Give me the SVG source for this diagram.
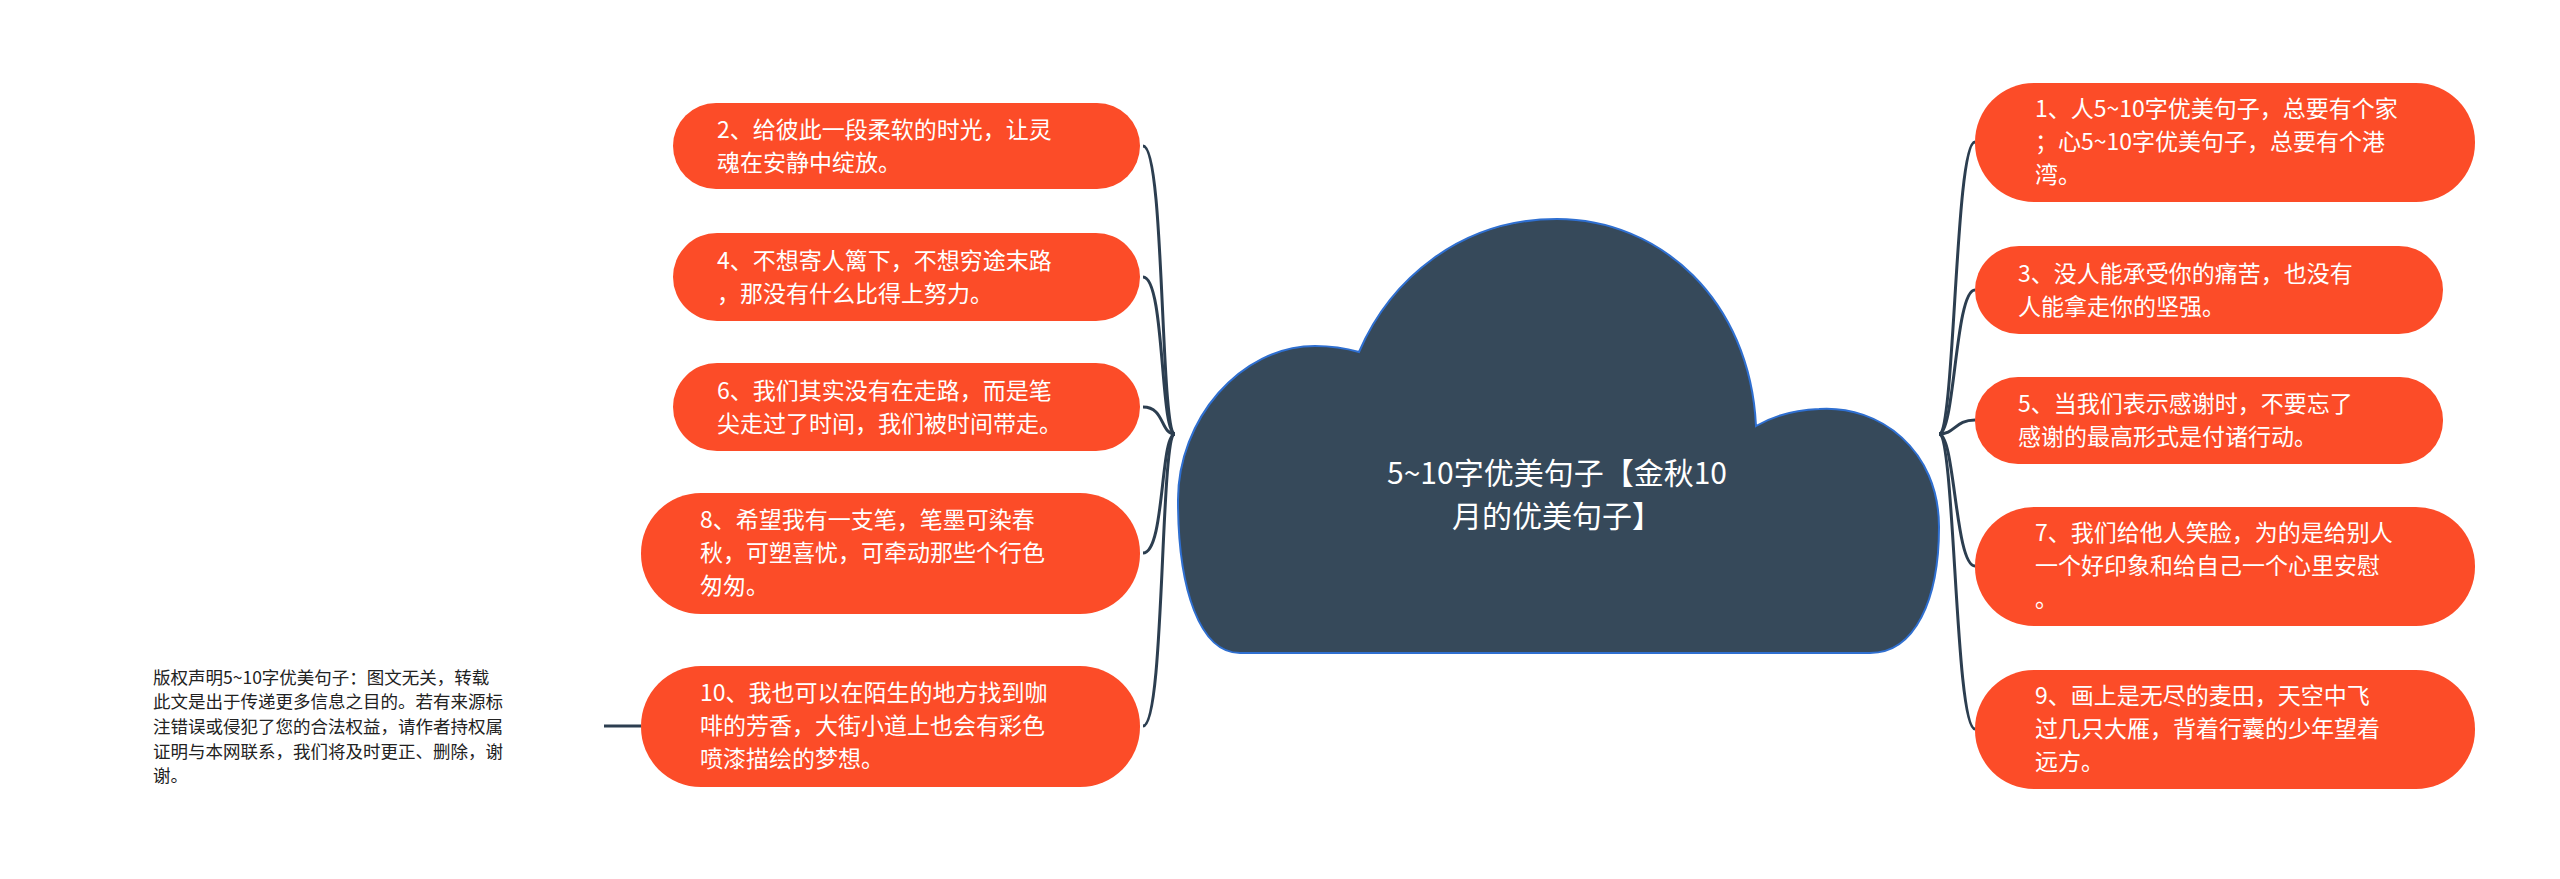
<svg xmlns="http://www.w3.org/2000/svg" width="2560" height="879" viewBox="0 0 2560 879">
<style>
.n{fill:#fc4c28;}
.t{font-family:"Noto Sans CJK SC","Noto Sans",sans-serif;font-size:23px;fill:#fff;}
.c{fill:none;stroke:#2c3e50;stroke-width:3;}
</style>
<rect width="2560" height="879" fill="#fff"/>
<g id="connectors">
<path class="c" d="M1175,434 C1160,434 1165,146 1143,146"/>
<path class="c" d="M1175,434 C1160,434 1165,277 1143,277"/>
<path class="c" d="M1175,434 C1160,434 1165,407 1143,407"/>
<path class="c" d="M1175,434 C1160,434 1165,553 1143,553"/>
<path class="c" d="M1175,434 C1160,434 1165,726 1143,726"/>
<path class="c" d="M1939,434 C1955,434 1955,142 1975,142"/>
<path class="c" d="M1939,434 C1955,434 1955,290 1975,290"/>
<path class="c" d="M1939,434 C1955,434 1955,420 1975,420"/>
<path class="c" d="M1939,434 C1955,434 1955,566 1975,566"/>
<path class="c" d="M1939,434 C1955,434 1955,729 1975,729"/>
<path class="c" d="M604,726 L641,726"/>
</g>
<g id="center">
<path d="M1240,653 L1870,653 C1915,653 1939,600 1939,527 C1939,450 1880,405 1819,409 C1790,410 1770,418 1756,426 C1750,300 1660,219 1557,219 C1460,219 1390,280 1359,352 C1345,348 1330,346 1315,346 C1240,346 1178,420 1178,500 C1178,590 1200,653 1240,653 Z" fill="#36495a" stroke="#2f6fd0" stroke-width="2"/>
<text class="t" style="font-size:30px" text-anchor="middle"><tspan x="1557" y="484">5~10字优美句子【金秋10</tspan><tspan x="1557" y="527">月的优美句子】</tspan></text>
</g>
<g id="n2"><rect class="n" x="673" y="103" width="467" height="86" rx="43"/><text class="t"><tspan x="717" y="138">2、给彼此一段柔软的时光，让灵</tspan><tspan x="717" y="171">魂在安静中绽放。</tspan></text></g>
<g id="n4"><rect class="n" x="673" y="233" width="467" height="88" rx="44"/><text class="t"><tspan x="717" y="269">4、不想寄人篱下，不想穷途末路</tspan><tspan x="717" y="302">，那没有什么比得上努力。</tspan></text></g>
<g id="n6"><rect class="n" x="673" y="363" width="467" height="88" rx="44"/><text class="t"><tspan x="717" y="399">6、我们其实没有在走路，而是笔</tspan><tspan x="717" y="432">尖走过了时间，我们被时间带走。</tspan></text></g>
<g id="n8"><rect class="n" x="641" y="493" width="499" height="121" rx="60"/><text class="t"><tspan x="700" y="528">8、希望我有一支笔，笔墨可染春</tspan><tspan x="700" y="561">秋，可塑喜忧，可牵动那些个行色</tspan><tspan x="700" y="594">匆匆。</tspan></text></g>
<g id="n10"><rect class="n" x="641" y="666" width="499" height="121" rx="60"/><text class="t"><tspan x="700" y="701">10、我也可以在陌生的地方找到咖</tspan><tspan x="700" y="734">啡的芳香，大街小道上也会有彩色</tspan><tspan x="700" y="767">喷漆描绘的梦想。</tspan></text></g>
<g id="copyright"><text style="font-family:'Noto Sans CJK SC','Noto Sans',sans-serif;font-size:17.5px;fill:#222"><tspan x="153" y="684">版权声明5~10字优美句子：图文无关，转载</tspan><tspan x="153" y="708">此文是出于传递更多信息之目的。若有来源标</tspan><tspan x="153" y="733">注错误或侵犯了您的合法权益，请作者持权属</tspan><tspan x="153" y="758">证明与本网联系，我们将及时更正、删除，谢</tspan><tspan x="153" y="782">谢。</tspan></text></g>
<g id="n1"><rect class="n" x="1975" y="83" width="500" height="119" rx="59"/><text class="t"><tspan x="2035" y="117">1、人5~10字优美句子，总要有个家</tspan><tspan x="2035" y="150">；心5~10字优美句子，总要有个港</tspan><tspan x="2035" y="183">湾。</tspan></text></g>
<g id="n3"><rect class="n" x="1975" y="246" width="468" height="88" rx="44"/><text class="t"><tspan x="2018" y="282">3、没人能承受你的痛苦，也没有</tspan><tspan x="2018" y="315">人能拿走你的坚强。</tspan></text></g>
<g id="n5"><rect class="n" x="1975" y="377" width="468" height="87" rx="43"/><text class="t"><tspan x="2018" y="412">5、当我们表示感谢时，不要忘了</tspan><tspan x="2018" y="445">感谢的最高形式是付诸行动。</tspan></text></g>
<g id="n7"><rect class="n" x="1975" y="507" width="500" height="119" rx="59"/><text class="t"><tspan x="2035" y="541">7、我们给他人笑脸，为的是给别人</tspan><tspan x="2035" y="574">一个好印象和给自己一个心里安慰</tspan><tspan x="2035" y="607">。</tspan></text></g>
<g id="n9"><rect class="n" x="1975" y="670" width="500" height="119" rx="59"/><text class="t"><tspan x="2035" y="704">9、画上是无尽的麦田，天空中飞</tspan><tspan x="2035" y="737">过几只大雁，背着行囊的少年望着</tspan><tspan x="2035" y="770">远方。</tspan></text></g>
</svg>
